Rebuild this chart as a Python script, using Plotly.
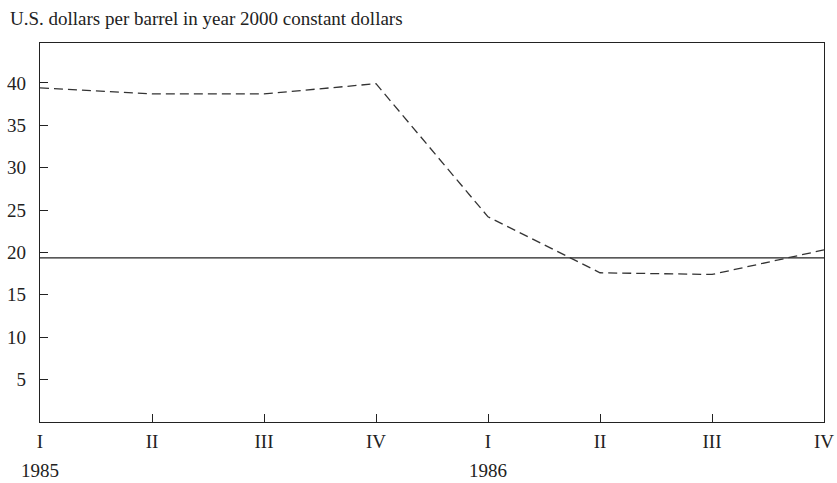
import plotly.graph_objects as go

quarters = ["I", "II", "III", "IV", "I", "II", "III", "IV"]
years = ["1985", "1986"]
price = [39.4, 38.7, 38.7, 39.9, 24.2, 17.6, 17.4, 20.3]
reference_level = 19.35
y_ticks = [5, 10, 15, 20, 25, 30, 35, 40]

FONT = "Liberation Serif"
FS = 19
pos = list(range(len(quarters)))

fig = go.Figure()
fig.add_trace(go.Scatter(
    x=[pos[0], pos[-1]], y=[reference_level, reference_level],
    mode="lines", line=dict(color="#222", width=1.3), hoverinfo="skip"))
fig.add_trace(go.Scatter(
    x=pos, y=price, mode="lines",
    line=dict(color="#333", width=1.3, dash="9px,5px")))

# year labels under the first quarter of each year
for i, yr in enumerate(years):
    fig.add_annotation(x=pos[i * 4], y=0, xref="x", yref="paper", yanchor="middle",
                       yshift=-48, text=yr, showarrow=False,
                       font=dict(family=FONT, size=FS, color="#222"))

fig.add_annotation(x=0, y=1, xref="paper", yref="paper", xanchor="left", yanchor="middle",
                   xshift=-32, yshift=25, showarrow=False,
                   text="U.S. dollars per barrel in year 2000 constant dollars",
                   font=dict(family=FONT, size=FS, color="#222"))

fig.update_xaxes(range=[pos[0], pos[-1]], tickvals=pos, ticktext=quarters,
                 ticks="inside", ticklen=8, tickcolor="#222", showgrid=False,
                 zeroline=False, showline=True, linecolor="#222", linewidth=1.3,
                 mirror=True, automargin=False, ticklabelstandoff=2,
                 tickfont=dict(family=FONT, size=FS, color="#222"))
fig.update_yaxes(range=[0, 44.7], tickvals=y_ticks, ticks="inside", ticklen=8,
                 tickcolor="#222", showgrid=False, zeroline=False, showline=True,
                 linecolor="#222", linewidth=1.3, mirror=True, automargin=False,
                 ticklabelstandoff=9,
                 tickfont=dict(family=FONT, size=FS, color="#222"))

fig.update_layout(width=837, height=483, showlegend=False,
                  plot_bgcolor="white", paper_bgcolor="white",
                  margin=dict(l=40, r=13, t=43, b=61))
# drop the default body margin so the figure fills the window exactly
fig.write_html("out.html", config={"displayModeBar": False},
               post_script="document.body.style.margin='0';document.body.style.overflow='hidden';")
